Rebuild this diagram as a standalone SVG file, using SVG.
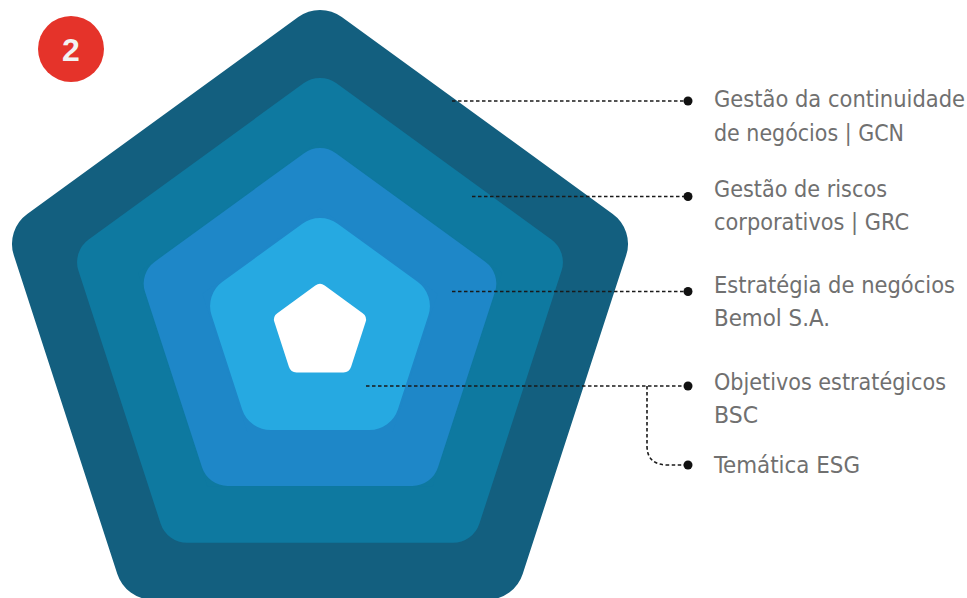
<svg xmlns="http://www.w3.org/2000/svg" width="967" height="598" viewBox="0 0 967 598">
<style>
.lbl{font-family:"DejaVu Sans Condensed","DejaVu Sans",sans-serif;font-size:23px;fill:#707070;}
.dl{fill:none;stroke:#1a1a1a;stroke-width:1.6;stroke-dasharray:3.5 2.5;}
.dot{fill:#111;}
</style>
<rect width="967" height="598" fill="#ffffff"/>
<g id="layer-gcn">
<polygon points="320,47 591,243.9 487.5,562.6 152.5,562.6 49,243.9" fill="#135f7f" stroke="#135f7f" stroke-width="74" stroke-linejoin="round"/>
</g>
<g id="layer-grc">
<polygon points="320,106 534.9,262.2 452.8,514.8 187.2,514.8 105.1,262.2" fill="#0e79a0" stroke="#0e79a0" stroke-width="56" stroke-linejoin="round"/>
</g>
<g id="layer-estrategia">
<polygon points="320,175 469.3,283.5 412.3,459 227.7,459 170.7,283.5" fill="#1e87c8" stroke="#1e87c8" stroke-width="54" stroke-linejoin="round"/>
</g>
<g id="layer-objetivos">
<polygon points="320,248 399.9,306 369.4,400 270.6,400 240.1,306" fill="#26a9e1" stroke="#26a9e1" stroke-width="60" stroke-linejoin="round"/>
</g>
<g id="core">
<polygon points="320,292 358,319.6 343.5,364.4 296.5,364.4 282,319.6" fill="#ffffff" stroke="#ffffff" stroke-width="16" stroke-linejoin="round"/>
</g>
<g id="badge">
<circle cx="71" cy="49" r="33" fill="#e5332a"/>
<text x="71" y="61" text-anchor="middle" font-family="'Liberation Sans',Arial,sans-serif" font-weight="bold" font-size="32" fill="#f2f2f2">2</text>
</g>
<g id="connectors">
<line class="dl" x1="452" y1="101" x2="688" y2="101"/>
<circle class="dot" cx="688" cy="101" r="4.5"/>
<line class="dl" x1="472" y1="196.5" x2="688" y2="196.5"/>
<circle class="dot" cx="688" cy="196.5" r="4.5"/>
<line class="dl" x1="452" y1="291.5" x2="688" y2="291.5"/>
<circle class="dot" cx="688" cy="291.5" r="4.5"/>
<line class="dl" x1="366" y1="386" x2="688" y2="386"/>
<circle class="dot" cx="688" cy="386" r="4.5"/>
<path class="dl" d="M647,386 V446 Q647,465 668,465 H688"/>
<circle class="dot" cx="688" cy="465" r="4.5"/>
</g>
<g id="label-gcn">
<text class="lbl" x="714" y="107" textLength="251" lengthAdjust="spacingAndGlyphs">Gestão da continuidade</text>
<text class="lbl" x="714" y="141" textLength="190" lengthAdjust="spacingAndGlyphs">de negócios | GCN</text>
</g>
<g id="label-grc">
<text class="lbl" x="714" y="197" textLength="173" lengthAdjust="spacingAndGlyphs">Gestão de riscos</text>
<text class="lbl" x="714" y="230" textLength="195" lengthAdjust="spacingAndGlyphs">corporativos | GRC</text>
</g>
<g id="label-estrategia">
<text class="lbl" x="714" y="293" textLength="241" lengthAdjust="spacingAndGlyphs">Estratégia de negócios</text>
<text class="lbl" x="714" y="326" textLength="116" lengthAdjust="spacingAndGlyphs">Bemol S.A.</text>
</g>
<g id="label-objetivos">
<text class="lbl" x="714" y="390" textLength="232" lengthAdjust="spacingAndGlyphs">Objetivos estratégicos</text>
<text class="lbl" x="714" y="423" textLength="44" lengthAdjust="spacingAndGlyphs">BSC</text>
</g>
<g id="label-esg">
<text class="lbl" x="714" y="473" textLength="146" lengthAdjust="spacingAndGlyphs">Temática ESG</text>
</g>
</svg>
